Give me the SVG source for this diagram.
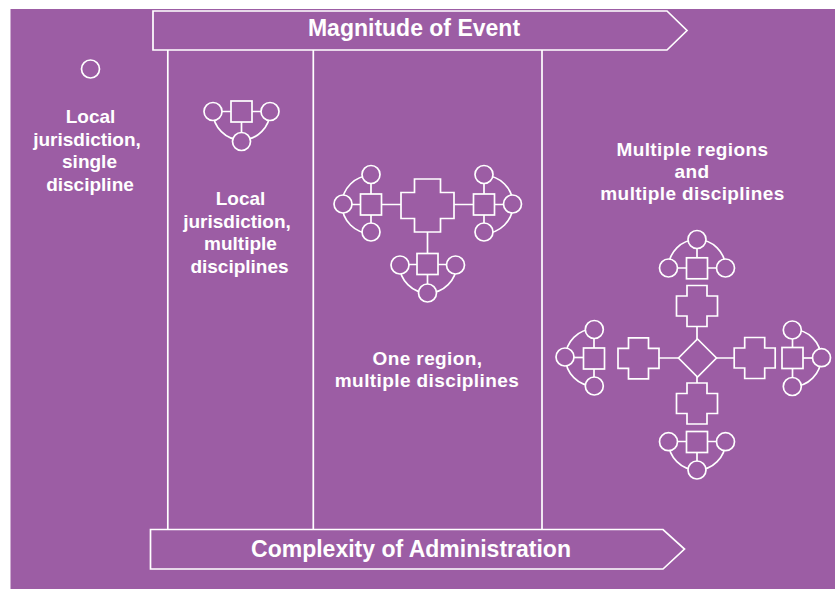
<svg xmlns="http://www.w3.org/2000/svg" xmlns:xlink="http://www.w3.org/1999/xlink" width="835" height="591" viewBox="0 0 835 591">
<style>
.bg{fill:#9c5da4}
.s{fill:#9c5da4;stroke:#fff;stroke-width:1.7}
.ln{fill:none;stroke:#fff;stroke-width:1.7}
.t{font-family:"Liberation Sans",Arial,sans-serif;font-weight:bold;font-size:19px;fill:#fff;text-anchor:middle}
.h{font-family:"Liberation Sans",Arial,sans-serif;font-weight:bold;font-size:23px;fill:#fff;text-anchor:middle}
</style>
<defs>
<path id="crossL" d="M-13,-26.5 H13 V-13 H26.5 V13 H13 V26.5 H-13 V13 H-26.5 V-13 H-13 Z"/>
<path id="crossS" d="M-10,-20.5 H10 V-10 H20.5 V10 H10 V20.5 H-10 V10 H-20.5 V-10 H-10 Z"/>
<rect id="sq" x="-10.5" y="-10.5" width="21" height="21"/>
<circle id="ci" r="9"/>
</defs>
<rect width="835" height="591" fill="#fff"/>
<rect class="bg" x="10.5" y="9" width="824.5" height="580"/>

<g id="connectors" class="ln">
  <!-- column dividers -->
  <line x1="167.8" y1="50" x2="167.8" y2="529.5"/>
  <line x1="313.3" y1="50" x2="313.3" y2="529.5"/>
  <line x1="542" y1="50" x2="542" y2="529.5"/>
  <!-- cluster A -->
  <line x1="213" y1="111.5" x2="270" y2="111.5"/>
  <line x1="241.5" y1="111.5" x2="241.5" y2="141"/>
  <path d="M213,111.5 A28.5,28.5 0 0 0 270,111.5"/>
  <!-- cluster B -->
  <line x1="371" y1="175" x2="371" y2="233"/>
  <line x1="342.5" y1="204.5" x2="401" y2="204.5"/>
  <path d="M371,175.5 A29,29 0 0 0 371,233.5"/>
  <!-- cluster C -->
  <line x1="484" y1="175" x2="484" y2="233"/>
  <line x1="454" y1="204.5" x2="513" y2="204.5"/>
  <path d="M484,175.5 A29,29 0 0 1 484,233.5"/>
  <!-- cluster E -->
  <line x1="427.5" y1="232" x2="427.5" y2="293"/>
  <line x1="399.5" y1="264.5" x2="456" y2="264.5"/>
  <path d="M399.5,264.5 A28.5,28.5 0 0 0 456.5,264.5"/>
  <!-- diamond links -->
  <line x1="697" y1="326.5" x2="697" y2="383.5"/>
  <line x1="659" y1="358" x2="734.5" y2="358"/>
  <!-- cluster F -->
  <line x1="668.5" y1="268" x2="725.5" y2="268"/>
  <line x1="697" y1="239.5" x2="697" y2="268"/>
  <path d="M668.5,268 A28.5,28.5 0 0 1 725.5,268"/>
  <!-- cluster G -->
  <line x1="594" y1="329" x2="594" y2="386"/>
  <line x1="565" y1="357.5" x2="594" y2="357.5"/>
  <path d="M594,329 A28.5,28.5 0 0 0 594,386"/>
  <!-- cluster H -->
  <line x1="792.5" y1="329.5" x2="792.5" y2="386.5"/>
  <line x1="792.5" y1="358" x2="821" y2="358"/>
  <path d="M792.5,329.5 A28.5,28.5 0 0 1 792.5,386.5"/>
  <!-- cluster I -->
  <line x1="668.5" y1="441.5" x2="725.5" y2="441.5"/>
  <line x1="697" y1="441.5" x2="697" y2="470"/>
  <path d="M668.5,441.5 A28.5,28.5 0 0 0 725.5,441.5"/>
</g>

<g id="arrow-top">
  <polygon class="s" points="153,11 667,11 687,30.5 667,50 153,50"/>
  <text class="h" x="414" y="35.5">Magnitude of Event</text>
</g>
<g id="arrow-bottom">
  <polygon class="s" points="150.5,529.5 663,529.5 684.5,549 663,569 150.5,569"/>
  <text class="h" x="411" y="556.5">Complexity of Administration</text>
</g>

<g id="label-col1" class="t">
  <text x="90.5" y="123">Local</text>
  <text x="87" y="145.5">jurisdiction,</text>
  <text x="89.5" y="168">single</text>
  <text x="90" y="190.5">discipline</text>
</g>
<g id="label-col2" class="t">
  <text x="240.5" y="205">Local</text>
  <text x="237" y="227.5">jurisdiction,</text>
  <text x="240.5" y="250">multiple</text>
  <text x="239.5" y="272.5">disciplines</text>
</g>
<g id="label-col3" class="t" style="letter-spacing:0.4px">
  <text x="427.5" y="364.5">One region,</text>
  <text x="427" y="386.5">multiple disciplines</text>
</g>
<g id="label-col4" class="t" style="letter-spacing:0.4px">
  <text x="692.5" y="156">Multiple regions</text>
  <text x="692" y="177.5">and</text>
  <text x="692.5" y="200">multiple disciplines</text>
</g>

<g id="node-single"><use href="#ci" class="s" x="90.5" y="69"/></g>

<g id="cluster-A">
  <use href="#sq" class="s" x="241.5" y="111.5"/>
  <use href="#ci" class="s" x="213" y="111.5"/>
  <use href="#ci" class="s" x="270" y="111.5"/>
  <use href="#ci" class="s" x="241.5" y="141.5"/>
</g>
<g id="cluster-B">
  <use href="#sq" class="s" x="371" y="204.5"/>
  <use href="#ci" class="s" x="371" y="174.5"/>
  <use href="#ci" class="s" x="343" y="204"/>
  <use href="#ci" class="s" x="371" y="232"/>
</g>
<g id="cluster-C">
  <use href="#sq" class="s" x="484" y="204.5"/>
  <use href="#ci" class="s" x="484" y="174.5"/>
  <use href="#ci" class="s" x="512.5" y="204"/>
  <use href="#ci" class="s" x="484" y="232"/>
</g>
<g id="hub-one-region"><use href="#crossL" class="s" x="427.5" y="205.5"/></g>
<g id="cluster-E">
  <use href="#sq" class="s" x="427.5" y="264"/>
  <use href="#ci" class="s" x="400" y="265"/>
  <use href="#ci" class="s" x="455.5" y="265"/>
  <use href="#ci" class="s" x="427.5" y="293"/>
</g>

<g id="hub-multi"><polygon class="s" points="697.5,339 716.5,358 697.5,377 678.5,358"/></g>
<g id="cross-top"><use href="#crossS" class="s" x="697" y="306"/></g>
<g id="cross-left"><use href="#crossS" class="s" x="638.5" y="358.3"/></g>
<g id="cross-right"><use href="#crossS" class="s" x="754.7" y="358"/></g>
<g id="cross-bottom"><use href="#crossS" class="s" x="697" y="403.5"/></g>

<g id="cluster-F">
  <use href="#sq" class="s" x="697" y="268.3"/>
  <use href="#ci" class="s" x="668.5" y="268"/>
  <use href="#ci" class="s" x="725.5" y="268"/>
  <use href="#ci" class="s" x="697" y="239.5"/>
</g>
<g id="cluster-G">
  <use href="#sq" class="s" x="594" y="358.5"/>
  <use href="#ci" class="s" x="594.3" y="329.5"/>
  <use href="#ci" class="s" x="565" y="357"/>
  <use href="#ci" class="s" x="594.3" y="386"/>
</g>
<g id="cluster-H">
  <use href="#sq" class="s" x="792.5" y="358"/>
  <use href="#ci" class="s" x="792.3" y="330"/>
  <use href="#ci" class="s" x="821.5" y="357.7"/>
  <use href="#ci" class="s" x="792.3" y="386.5"/>
</g>
<g id="cluster-I">
  <use href="#sq" class="s" x="697" y="442"/>
  <use href="#ci" class="s" x="668.5" y="441.7"/>
  <use href="#ci" class="s" x="725.5" y="441.7"/>
  <use href="#ci" class="s" x="697" y="470"/>
</g>
</svg>
